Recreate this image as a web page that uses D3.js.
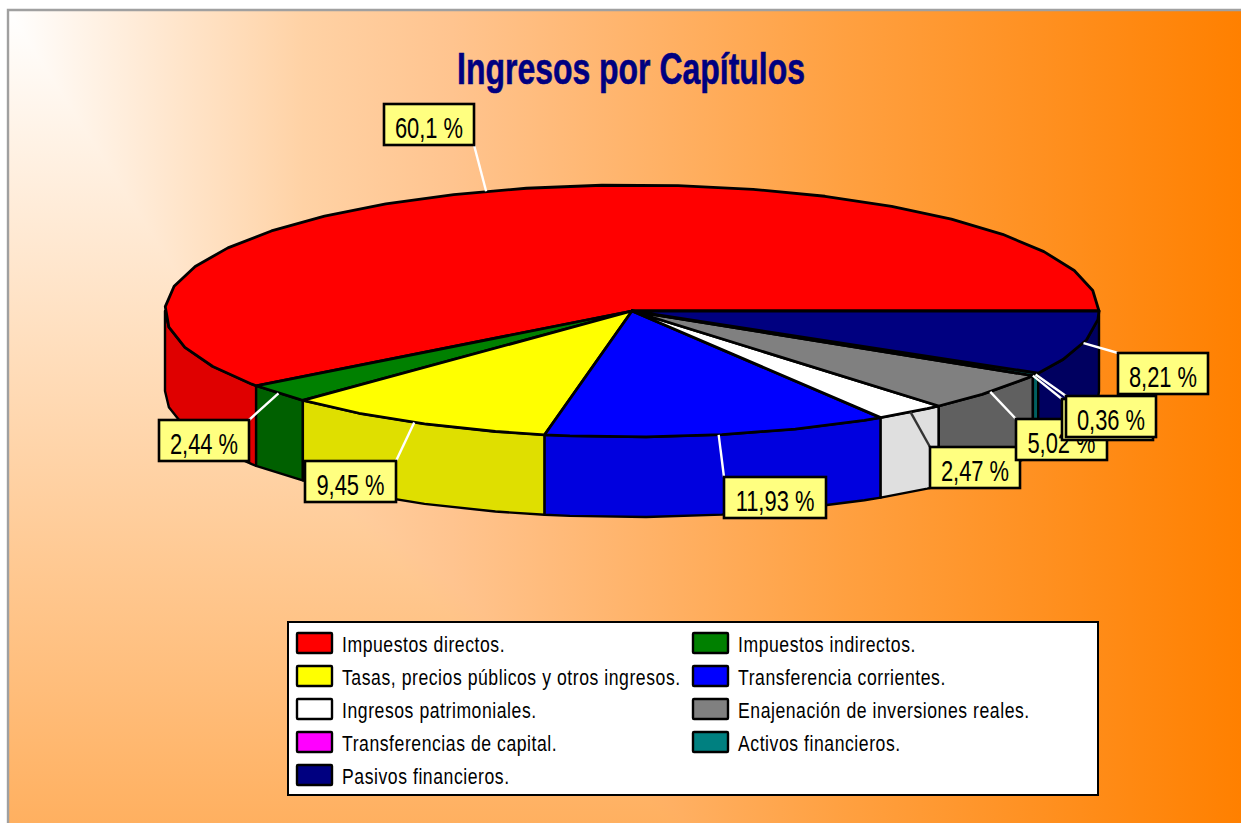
<html>
<head>
<title>Ingresos por Capitulos</title>
<script type="text/javascript" src="https://d3js.org/d3.v7.min.js"></script>
<style>
  body { margin: 0; background: #fff; overflow: hidden; }
  text { font-family: "Liberation Sans", sans-serif; }
</style>
</head>
<body>
<script type="text/javascript">
  // data
  var categories = ["Impuestos directos.", "Impuestos indirectos.",
                    "Tasas, precios públicos y otros ingresos.", "Transferencia corrientes.",
                    "Ingresos patrimoniales.", "Enajenación de inversiones reales.",
                    "Transferencias de capital.", "Activos financieros.", "Pasivos financieros."];
  var values = [60.1, 2.44, 9.45, 11.93, 2.47, 5.02, 0, 0.36, 8.21];
  var valueLabels = ["60,1 %", "2,44 %", "9,45 %", "11,93 %", "2,47 %", "5,02 %", "0 %", "0,36 %", "8,21 %"];

  var topColors = ["#ff0000", "#008000", "#ffff00", "#0000ff", "#ffffff", "#808080", "#ff00ff", "#008080", "#000080"];
  var wallColors = ["#df0000", "#006000", "#dfdf00", "#0000df", "#dfdfdf", "#606060", "#df00df", "#006060", "#000060"];
  var leaderColors = ["#fff", "#fff", "#fff", "#fff", "#333", "#fff", "#fff", "#fff", "#fff"];

  // label boxes, same order as the series
  var labelBoxes = [[384, 104, 90], [159, 420, 90], [305, 461, 91], [724, 477, 102], [930, 447, 90],
                    [1016, 419, 91], [1062, 399, 91], [1066, 396, 90], [1118, 353, 90]];

  var width = 1241;
  var height = 823;
  var cx = 632, cy = 311, rx = 467, ry = 126, depth = 80;
  var facet = 9.37 * Math.PI / 180;   // the rim is a polygon in the original
  var boxH = 41;

  var color = d3.scaleOrdinal().domain(categories).range(topColors);
  var wallColor = d3.scaleOrdinal().domain(categories).range(wallColors);

  var xScale = d3.scaleLinear().domain([-1, 1]).range([cx - rx, cx + rx]);
  var yScale = d3.scaleLinear().domain([-1, 1]).range([cy + ry, cy - ry]);

  var svg = d3.select("body").append("svg")
              .attr("width", width)
              .attr("height", height)
              .style("display", "block");

  // background: white to orange both ways, darkest one wins
  var defs = svg.append("defs");
  var hGrad = defs.append("linearGradient").attr("id", "hGrad");
  [[0, "#ffffff"], [0.24, "#ffd2a5"], [0.36, "#ffc48f"], [0.68, "#ffa040"], [1, "#ff8000"]].forEach(function(s) {
    hGrad.append("stop").attr("offset", s[0]).attr("stop-color", s[1]);
  });
  var vGrad = defs.append("linearGradient").attr("id", "vGrad")
                  .attr("x1", 0).attr("y1", 0).attr("x2", 0).attr("y2", 1);
  vGrad.append("stop").attr("offset", 0).attr("stop-color", "#ffffff");
  vGrad.append("stop").attr("offset", 1).attr("stop-color", "#ffb060");

  var panel = svg.append("g").style("isolation", "isolate");
  panel.append("rect").attr("x", 8).attr("y", 10).attr("width", width - 8).attr("height", height - 10)
       .attr("fill", "url(#hGrad)");
  panel.append("rect").attr("x", 8).attr("y", 10).attr("width", width - 8).attr("height", height - 10)
       .attr("fill", "url(#vGrad)").style("mix-blend-mode", "darken");
  svg.append("path").attr("d", "M8," + height + "V10H" + width)
     .attr("fill", "none").attr("stroke", "#a0a0a0").attr("stroke-width", 2.4);

  // no narrow font here, so the text is squeezed sideways
  svg.append("text")
     .attr("transform", "translate(631,84) scale(0.71,1)")
     .attr("text-anchor", "middle")
     .attr("font-size", 45).attr("font-weight", "bold")
     .attr("fill", "#000080")
     .attr("stroke", "#000080").attr("stroke-width", 0.6)
     .text("Ingresos por Capítulos");

  var pie = d3.pie().sort(null).startAngle(0).endAngle(2 * Math.PI);
  var slices = pie(values);

  function rimPoint(a) { return [xScale(Math.cos(a)), yScale(Math.sin(a))]; }

  // rim vertices between two angles
  function rimAngles(a0, a1) {
    var out = [a0];
    var k = Math.ceil(a0 / facet + 0.01);
    while (k * facet < a1 - 0.005) { out.push(k * facet); k++; }
    out.push(a1);
    return out;
  }

  var line = d3.line();
  var chart = svg.append("g");

  // outer walls, only the front half shows
  chart.selectAll("path.wall")
       .data(slices.filter(function(d) { return d.value > 0 && d.endAngle > Math.PI; }))
       .enter().append("path")
       .attr("class", "wall")
       .attr("d", function(d) {
         var pts = rimAngles(Math.max(d.startAngle, Math.PI), d.endAngle).map(rimPoint);
         var low = pts.map(function(p) { return [p[0], p[1] + depth]; }).reverse();
         return line(pts.concat(low)) + "Z";
       })
       .attr("fill", function(d, i) { return wallColor(categories[d.index]); })
       .attr("stroke", "#000").attr("stroke-width", 2.4).attr("stroke-linejoin", "round");

  // top faces
  chart.selectAll("path.top")
       .data(slices.filter(function(d) { return d.value > 0; }))
       .enter().append("path")
       .attr("class", "top")
       .attr("d", function(d) {
         return line([[cx, cy]].concat(rimAngles(d.startAngle, d.endAngle).map(rimPoint))) + "Z";
       })
       .attr("fill", function(d) { return color(categories[d.index]); })
       .attr("stroke", "#000").attr("stroke-width", 2.8).attr("stroke-linejoin", "round");

  // leader lines from the rim to the closest corner of the box
  chart.selectAll("line.leader")
       .data(slices)
       .enter().append("line")
       .attr("class", "leader")
       .each(function(d) {
         var b = labelBoxes[d.index];
         var p = rimPoint((d.startAngle + d.endAngle) / 2);
         d3.select(this)
           .attr("x1", p[0]).attr("y1", p[1])
           .attr("x2", Math.max(b[0], Math.min(p[0], b[0] + b[2])))
           .attr("y2", Math.max(b[1], Math.min(p[1], b[1] + boxH)));
       })
       .attr("stroke", function(d) { return leaderColors[d.index]; })
       .attr("stroke-width", 2.4);

  var labels = chart.selectAll("g.label")
       .data(slices)
       .enter().append("g")
       .attr("class", "label")
       .attr("transform", function(d) { return "translate(" + labelBoxes[d.index][0] + "," + labelBoxes[d.index][1] + ")"; });
  labels.append("rect")
        .attr("width", function(d) { return labelBoxes[d.index][2]; })
        .attr("height", boxH)
        .attr("fill", "#ffff80")
        .attr("stroke", "#000").attr("stroke-width", 2.6);
  labels.append("text")
        .attr("transform", function(d) { return "translate(" + (labelBoxes[d.index][2] / 2) + ",33.5) scale(0.73,1)"; })
        .attr("text-anchor", "middle")
        .attr("font-size", 30)
        .attr("fill", "#000")
        .text(function(d) { return valueLabels[d.index]; });

  // legend, two columns filled row by row
  var legend = svg.append("g");
  legend.append("rect").attr("x", 288).attr("y", 622).attr("width", 810).attr("height", 173)
        .attr("fill", "#fff").attr("stroke", "#000").attr("stroke-width", 2);

  var colX = d3.scaleOrdinal().domain([0, 1]).range([297, 693]);
  var rowY = d3.scaleBand().domain(d3.range(5)).range([627, 792]);

  var items = legend.selectAll("g.item")
       .data(categories)
       .enter().append("g")
       .attr("class", "item")
       .attr("transform", function(d, i) {
         return "translate(" + colX(i % 2) + "," + rowY(Math.floor(i / 2)) + ")";
       });
  items.append("rect")
       .attr("y", 6).attr("width", 35).attr("height", 20).attr("rx", 1)
       .attr("fill", function(d) { return color(d); })
       .attr("stroke", "#000").attr("stroke-width", 2.4);
  items.append("text")
       .attr("transform", "translate(45,25) scale(0.8,1)")
       .attr("font-size", 22)
       .attr("letter-spacing", 0.7)
       .attr("fill", "#000")
       .text(function(d) { return d; });
</script>
</body>
</html>
